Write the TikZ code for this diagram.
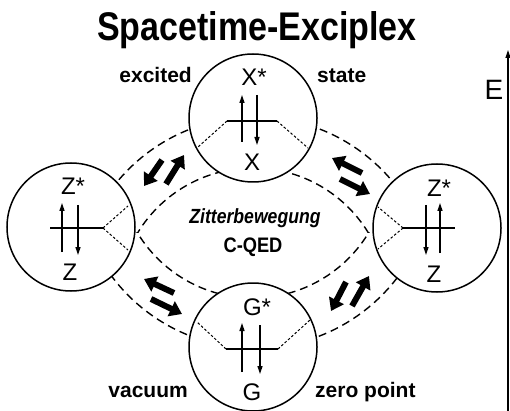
\documentclass[tikz,border=0pt]{standalone}
\usepackage{fontspec}
\setmainfont{Liberation Sans}
\usetikzlibrary{arrows.meta}
\begin{document}
\begin{tikzpicture}[x=1pt,y=-1pt,
  ring/.style={circle,draw,line width=1.5pt,fill=white,minimum size=128pt,inner sep=0pt},
  band/.style={line width=1.4pt,dash pattern=on 8pt off 5pt},
  dots/.style={line width=1pt,dash pattern=on 2.5pt off 2pt},
  level/.style={line width=1.3pt},
  spin/.style={line width=1.3pt,-{Triangle[length=8pt,width=5pt]}},
  fat/.style={line width=6pt,-{Triangle[length=12pt,width=16pt]}},
  lbl/.style={font=\fontsize{21}{24}\selectfont\bfseries,inner sep=0pt},
  sym/.style={font=\fontsize{24}{26}\selectfont,inner sep=0pt,anchor=base}
]
\useasboundingbox (0,0) rectangle (510,411);

% dashed bands
\begin{scope}
\clip (0,0) rectangle (510,232.5);
\draw[band] (255,296) circle[radius=179];
\draw[band] (253,303) circle[radius=135];
\end{scope}
\begin{scope}
\clip (0,232.5) rectangle (510,411);
\draw[band] (255,169) circle[radius=179];
\draw[band] (253,163) circle[radius=135];
\end{scope}

% circles
\node[ring] (top) at (253,118) {};
\node[ring] (left) at (71,227) {};
\node[ring] (right) at (437,228) {};
\node[ring] (bot) at (253,347) {};

% top circle internals
\draw[level] (227,121) -- (277,121);
\draw[dots] (227,121) -- (198,147);
\draw[dots] (277,121) -- (308,148);
\draw[spin] (242,142) -- (242,95);
\draw[spin] (257,95) -- (257,145);
\node[sym] (xs) at (254,86) {X*};
\node[sym] (x) at (252,171) {X};

% left circle internals
\draw[level] (50,228) -- (103,228);
\draw[dots] (103,228) -- (128,206);
\draw[dots] (103,228) -- (128,250);
\draw[spin] (62,252) -- (62,203);
\draw[spin] (78,205) -- (78,255);
\node[sym] (zsl) at (73,195) {Z*};
\node[sym] (zl) at (70,280) {Z};

% right circle internals
\draw[level] (403,228) -- (455,228);
\draw[dots] (403,228) -- (378,207);
\draw[dots] (403,228) -- (378,249);
\draw[spin] (426,205) -- (426,255);
\draw[spin] (440,253) -- (440,203);
\node[sym] (zsr) at (439,197) {Z*};
\node[sym] (zr) at (434,282) {Z};

% bottom circle internals
\draw[level] (226,349) -- (278,349);
\draw[dots] (226,349) -- (197,322);
\draw[dots] (278,349) -- (310,320);
\draw[spin] (242,372) -- (242,323);
\draw[spin] (260,325) -- (260,374);
\node[sym] (gs) at (257,315) {G*};
\node[sym] (g) at (252,400) {G};

% fat double arrows
\draw[fat] (162,160) -- (144,186);
\draw[fat] (166,184) -- (184,155);
\draw[fat] (362,173) -- (332,158);
\draw[fat] (340,179) -- (370,194);
\draw[fat] (174,293) -- (144,279);
\draw[fat] (151,299) -- (182,314);
\draw[fat] (346,282) -- (331,311);
\draw[fat] (352,306) -- (369,276);

% texts
\node[font=\fontsize{40}{42}\selectfont\bfseries,inner sep=0pt,anchor=base] (title) at (257,41) {\scalebox{0.85}[1]{Spacetime-Exciplex}};
\node[lbl,anchor=base east] (exc) at (192,83) {excited};
\node[lbl,anchor=base west] (st) at (317,83) {state};
\node[lbl,anchor=base east] (vac) at (188,397) {vacuum};
\node[lbl,anchor=base west] (zp) at (315,397) {zero point};
\node[font=\fontsize{20.5}{22}\selectfont\bfseries\itshape,inner sep=0pt,anchor=base] (zit) at (255,223) {\scalebox{0.86}[1]{Zitterbewegung}};
\node[font=\fontsize{21}{22}\selectfont\bfseries,inner sep=0pt,anchor=base] (qed) at (253,252) {\scalebox{0.87}[1]{C-QED}};

% energy axis
\coordinate (ebot) at (508,411);
\coordinate (etop) at (508,50);
\draw[line width=1.2pt,-{Triangle[length=8pt,width=5pt]}] (ebot) -- (etop);
\node[font=\fontsize{28}{30}\selectfont,inner sep=0pt,anchor=base] (E) at (494,100) {E};
\end{tikzpicture}
\end{document}
